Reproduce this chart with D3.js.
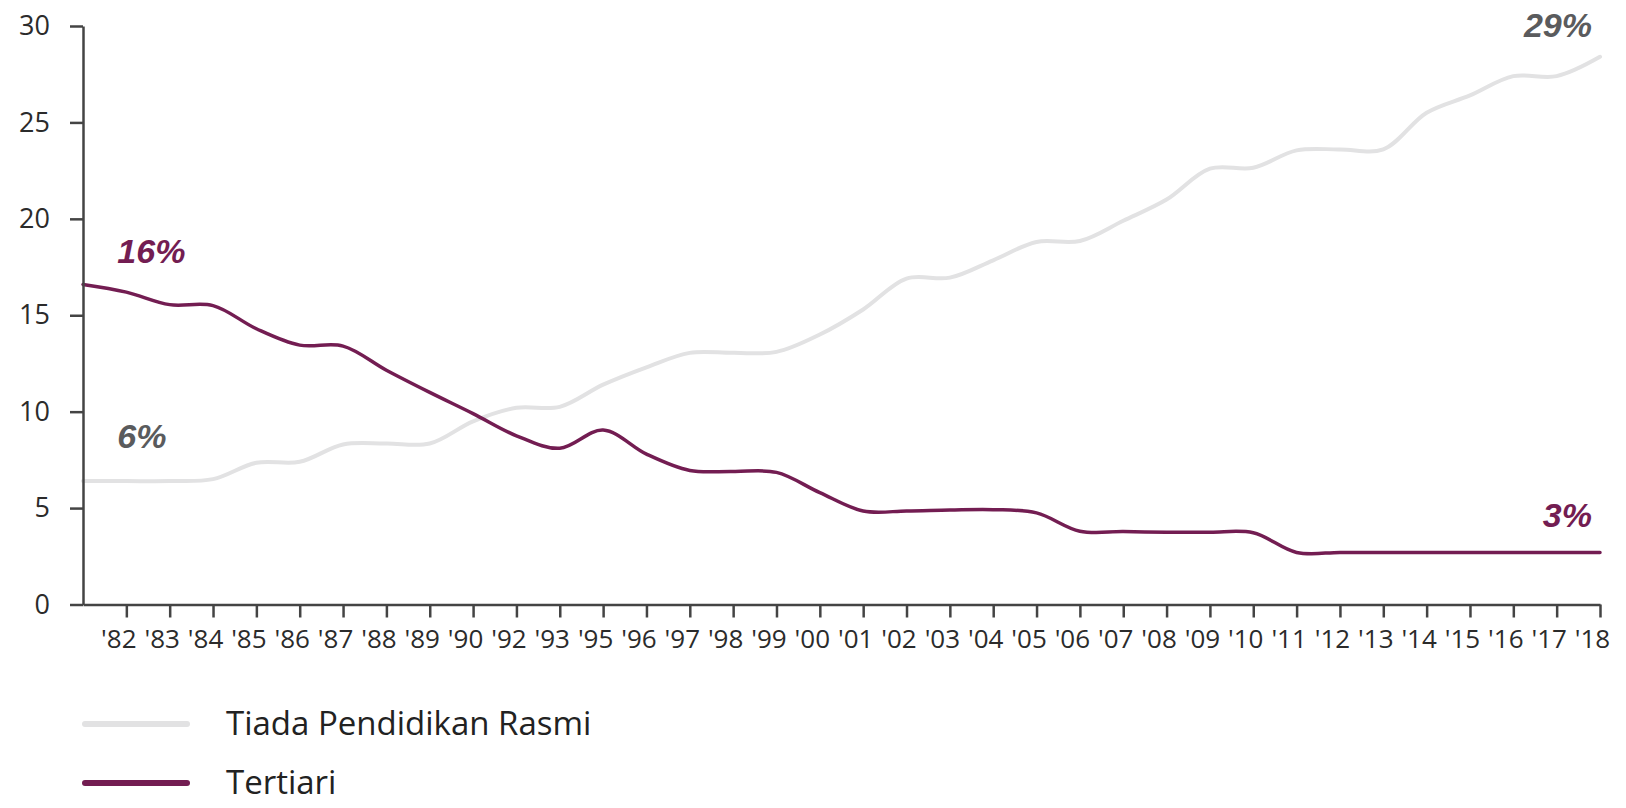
<!DOCTYPE html>
<html>
<head>
<meta charset="utf-8">
<script src="https://cdn.jsdelivr.net/npm/d3@7"></script>
<style>
  html, body { margin: 0; padding: 0; background: #ffffff; }
  svg { display: block; }
</style>
</head>
<body>
<svg id="chart" width="1626" height="808"></svg>
<script>
// ---- data ----
const startLabel = "";   // line begins at the axis origin, before the first labelled year
const categories = ["'82","'83","'84","'85","'86","'87","'88","'89","'90","'92","'93","'95","'96","'97","'98","'99","'00","'01","'02","'03","'04","'05","'06","'07","'08","'09","'10","'11","'12","'13","'14","'15","'16","'17","'18"];
const tiadaValues = [6.4, 6.4, 6.4, 6.5, 7.35, 7.4, 8.3, 8.35, 8.35, 9.5, 10.2, 10.25, 11.4, 12.3, 13.05, 13.05, 13.1, 14.0, 15.3, 16.9, 16.95, 17.85, 18.8, 18.85, 19.9, 21.0, 22.6, 22.65, 23.55, 23.6, 23.6, 25.5, 26.4, 27.4, 27.4, 28.4];
const tertiariValues = [16.6, 16.2, 15.55, 15.5, 14.3, 13.45, 13.4, 12.15, 11.0, 9.9, 8.75, 8.1, 9.05, 7.8, 6.95, 6.9, 6.85, 5.8, 4.85, 4.85, 4.9, 4.92, 4.75, 3.8, 3.78, 3.75, 3.75, 3.72, 2.7, 2.7, 2.7, 2.7, 2.7, 2.7, 2.7, 2.7];
const seriesNames = ["Tiada Pendidikan Rasmi", "Tertiari"];
const yTicks = [0, 5, 10, 15, 20, 25, 30];
const startLabels = ["6%", "16%"];
const endLabels = ["29%", "3%"];

// ---- styles ----
const colors = ["#e2e2e3", "#731d52"];
const labelColors = ["#5a5b5d", "#731d52"];
const axisColor = "#444444";

const svg = d3.select("#chart");
const x0 = 83, x1 = 1600, yTop = 26, yBottom = 604.5;

const domain = [startLabel, ...categories];
const x = d3.scalePoint().domain(domain).range([x0, x1]);
const y = d3.scaleLinear().domain([0, 30]).range([yBottom, yTop]);

const series = [tiadaValues, tertiariValues].map((vals, i) => ({
  name: seriesNames[i],
  color: colors[i],
  points: vals.map((v, j) => ({ c: domain[j], v }))
}));

// lines
const line = d3.line()
  .x(d => x(d.c))
  .y(d => y(d.v))
  .curve(d3.curveCatmullRom.alpha(0.5));

svg.append("g").selectAll("path")
  .data(series)
  .join("path")
  .attr("d", d => line(d.points))
  .attr("fill", "none")
  .attr("stroke", d => d.color)
  .attr("stroke-width", d => d.name === "Tertiari" ? 3.5 : 4)
  .attr("stroke-linecap", "round")
  .attr("stroke-linejoin", "round");

// axes
const yAxis = svg.append("g")
  .attr("transform", `translate(${x0},0)`)
  .call(d3.axisLeft(y).tickValues(yTicks).tickSize(13).tickPadding(20).tickSizeOuter(0));

const xAxis = svg.append("g")
  .attr("transform", `translate(0,${yBottom})`)
  .call(d3.axisBottom(x).tickValues(categories).tickSize(13).tickPadding(12).tickSizeOuter(0));

[yAxis, xAxis].forEach(g => {
  g.selectAll("path.domain").attr("stroke", axisColor).attr("stroke-width", 2.5);
  g.selectAll(".tick line").attr("stroke", axisColor).attr("stroke-width", 2.5);
  g.selectAll(".tick text")
    .attr("fill", "#2b2b2b")
    .style("font-family", "'Open Sans', 'Noto Sans', sans-serif")
    .style("font-size", "26px");
});
xAxis.selectAll(".tick text").attr("dx", -8);
yAxis.selectAll(".tick text").style("font-size", "27px");

// start / end value labels
const annoFont = "'Liberation Sans', Arial, sans-serif";
series.forEach((s, i) => {
  const first = s.points[1];
  const last = s.points[s.points.length - 1];
  const startOffset = i === 0 ? -33 : -21;
  const endOffset = i === 0 ? -20 : -25;
  svg.append("text")
    .attr("x", x(first.c) - 9)
    .attr("y", y(s.points[0].v) + startOffset)
    .attr("fill", labelColors[i])
    .style("font-family", annoFont)
    .style("font-weight", "bold")
    .style("font-style", "italic")
    .style("font-size", "34px")
    .text(startLabels[i]);
  svg.append("text")
    .attr("x", x(last.c) - 8)
    .attr("y", y(last.v) + endOffset)
    .attr("text-anchor", "end")
    .attr("fill", labelColors[i])
    .style("font-family", annoFont)
    .style("font-weight", "bold")
    .style("font-style", "italic")
    .style("font-size", "34px")
    .text(endLabels[i]);
});

// legend
const legend = svg.append("g");
const legendY = [724, 783];
series.forEach((s, i) => {
  legend.append("line")
    .attr("x1", 85).attr("x2", 187)
    .attr("y1", legendY[i]).attr("y2", legendY[i])
    .attr("stroke", s.color)
    .attr("stroke-width", 6)
    .attr("stroke-linecap", "round");
  legend.append("text")
    .attr("x", 226)
    .attr("y", legendY[i])
    .attr("dy", "0.34em")
    .attr("fill", "#222222")
    .style("font-family", "'Open Sans', 'Noto Sans', sans-serif")
    .style("font-size", "33px")
    .text(s.name);
});
</script>
</body>
</html>
